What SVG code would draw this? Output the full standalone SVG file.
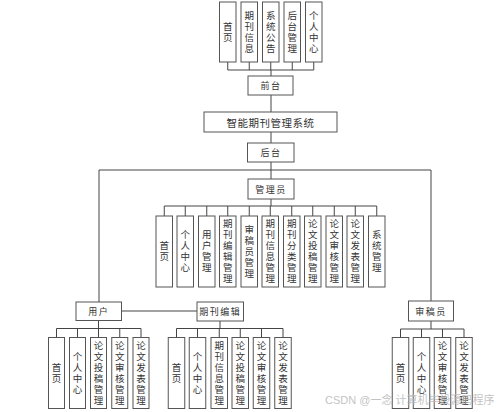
<svg xmlns="http://www.w3.org/2000/svg" width="499" height="412" viewBox="0 0 499 412">
<style>
.b{fill:#fff;stroke:#555;stroke-width:1}
.c line{stroke:#444;stroke-width:1}
text{font-family:"Noto Sans CJK SC","Noto Sans",sans-serif;fill:#333}
.v{font-size:9.5px;writing-mode:vertical-rl;text-orientation:upright;letter-spacing:1.5px;text-anchor:middle}
.h{font-size:9px;text-anchor:middle;dominant-baseline:central;letter-spacing:1.5px}
.t{font-size:10.5px;text-anchor:middle;dominant-baseline:central;letter-spacing:0.5px}
.w{font-size:11px;fill:#bbb;font-family:"Liberation Sans","Noto Sans CJK SC",sans-serif}
</style>
<rect width="499" height="412" fill="#fff"/>
<g id="connectors" class="c">
<line x1="227.75" y1="62" x2="227.75" y2="70"/><line x1="249.25" y1="62" x2="249.25" y2="70"/><line x1="270.75" y1="62" x2="270.75" y2="70"/><line x1="292.25" y1="62" x2="292.25" y2="70"/><line x1="313.75" y1="62" x2="313.75" y2="70"/>
<line x1="227.75" y1="70" x2="313.75" y2="70"/>
<line x1="271" y1="70" x2="271" y2="76"/>
<line x1="271" y1="95" x2="271" y2="112"/>
<line x1="271" y1="132" x2="271" y2="143"/>
<line x1="271" y1="162" x2="271" y2="170"/>
<line x1="99" y1="170" x2="431" y2="170"/>
<line x1="271" y1="170" x2="271" y2="179"/>
<line x1="99" y1="170" x2="99" y2="302"/>
<line x1="431" y1="170" x2="431" y2="301"/>
<line x1="121.5" y1="311" x2="197" y2="311"/>
<line x1="271" y1="199" x2="271" y2="206"/>
<line x1="164.25" y1="206" x2="376.75" y2="206"/>
<line x1="164.25" y1="206" x2="164.25" y2="216"/><line x1="185.25" y1="206" x2="185.25" y2="216"/><line x1="206.75" y1="206" x2="206.75" y2="216"/><line x1="227.75" y1="206" x2="227.75" y2="216"/><line x1="249.25" y1="206" x2="249.25" y2="216"/><line x1="270.25" y1="206" x2="270.25" y2="216"/><line x1="291.75" y1="206" x2="291.75" y2="216"/><line x1="312.75" y1="206" x2="312.75" y2="216"/><line x1="334.25" y1="206" x2="334.25" y2="216"/><line x1="355.25" y1="206" x2="355.25" y2="216"/><line x1="376.75" y1="206" x2="376.75" y2="216"/>
<line x1="98.5" y1="320.5" x2="98.5" y2="328.5"/>
<line x1="56.5" y1="328.5" x2="141" y2="328.5"/>
<line x1="56.5" y1="328.5" x2="56.5" y2="337.5"/><line x1="77.5" y1="328.5" x2="77.5" y2="337.5"/><line x1="98.5" y1="328.5" x2="98.5" y2="337.5"/><line x1="119.75" y1="328.5" x2="119.75" y2="337.5"/><line x1="141" y1="328.5" x2="141" y2="337.5"/>
<line x1="220" y1="321" x2="220" y2="328.5"/>
<line x1="176.5" y1="328.5" x2="283" y2="328.5"/>
<line x1="176.5" y1="328.5" x2="176.5" y2="337.5"/><line x1="197.5" y1="328.5" x2="197.5" y2="337.5"/><line x1="219.25" y1="328.5" x2="219.25" y2="337.5"/><line x1="240.25" y1="328.5" x2="240.25" y2="337.5"/><line x1="261.5" y1="328.5" x2="261.5" y2="337.5"/><line x1="283" y1="328.5" x2="283" y2="337.5"/>
<line x1="431" y1="321" x2="431" y2="329"/>
<line x1="400.5" y1="329" x2="464" y2="329"/>
<line x1="400.5" y1="329" x2="400.5" y2="337.5"/><line x1="421.5" y1="329" x2="421.5" y2="337.5"/><line x1="442.5" y1="329" x2="442.5" y2="337.5"/><line x1="464" y1="329" x2="464" y2="337.5"/>
</g>

<g id="top-home"><rect class="b" x="219.5" y="2" width="16.5" height="60"/><text class="v" x="227.75" y="32.75">首页</text></g>
<g id="top-info"><rect class="b" x="241" y="2" width="16.5" height="60"/><text class="v" x="249.25" y="32.75">期刊信息</text></g>
<g id="top-notice"><rect class="b" x="262.5" y="2" width="16.5" height="60"/><text class="v" x="270.75" y="32.75">系统公告</text></g>
<g id="top-backend"><rect class="b" x="284" y="2" width="16.5" height="60"/><text class="v" x="292.25" y="32.75">后台管理</text></g>
<g id="top-personal"><rect class="b" x="305.5" y="2" width="16.5" height="60"/><text class="v" x="313.75" y="32.75">个人中心</text></g>

<g id="frontend"><rect class="b" x="248" y="76" width="45" height="19"/><text class="h" x="271" y="85.5">前台</text></g>
<g id="system"><rect class="b" x="204" y="112" width="133" height="20"/><text class="t" x="270.5" y="122">智能期刊管理系统</text></g>
<g id="backend"><rect class="b" x="247.5" y="143" width="46.5" height="19"/><text class="h" x="271" y="152.5">后台</text></g>
<g id="admin"><rect class="b" x="248" y="179" width="46" height="20"/><text class="h" x="271" y="189">管理员</text></g>

<g id="a1"><rect class="b" x="156" y="216" width="16.5" height="71"/><text class="v" x="164.25" y="251.75">首页</text></g>
<g id="a2"><rect class="b" x="177" y="216" width="16.5" height="71"/><text class="v" x="185.25" y="251.75">个人中心</text></g>
<g id="a3"><rect class="b" x="198.5" y="216" width="16.5" height="71"/><text class="v" x="206.75" y="251.75">用户管理</text></g>
<g id="a4"><rect class="b" x="219.5" y="216" width="16.5" height="71"/><text class="v" x="227.75" y="251.75">期刊编辑管理</text></g>
<g id="a5"><rect class="b" x="241" y="216" width="16.5" height="71"/><text class="v" x="249.25" y="251.75">审稿员管理</text></g>
<g id="a6"><rect class="b" x="262" y="216" width="16.5" height="71"/><text class="v" x="270.25" y="251.75">期刊信息管理</text></g>
<g id="a7"><rect class="b" x="283.5" y="216" width="16.5" height="71"/><text class="v" x="291.75" y="251.75">期刊分类管理</text></g>
<g id="a8"><rect class="b" x="304.5" y="216" width="16.5" height="71"/><text class="v" x="312.75" y="251.75">论文投稿管理</text></g>
<g id="a9"><rect class="b" x="326" y="216" width="16.5" height="71"/><text class="v" x="334.25" y="251.75">论文审核管理</text></g>
<g id="a10"><rect class="b" x="347" y="216" width="16.5" height="71"/><text class="v" x="355.25" y="251.75">论文发表管理</text></g>
<g id="a11"><rect class="b" x="368.5" y="216" width="16.5" height="71"/><text class="v" x="376.75" y="251.75">系统管理</text></g>

<g id="user"><rect class="b" x="76" y="302" width="45.5" height="18.5"/><text class="h" x="98.75" y="311.25">用户</text></g>
<g id="editor"><rect class="b" x="197" y="302" width="46.5" height="19"/><text class="h" x="220.25" y="311.5">期刊编辑</text></g>
<g id="reviewer"><rect class="b" x="408.5" y="301" width="45" height="20"/><text class="h" x="431" y="311">审稿员</text></g>

<g id="u1"><rect class="b" x="48.5" y="337.5" width="16" height="71"/><text class="v" x="56.5" y="373.75">首页</text></g>
<g id="u2"><rect class="b" x="69.5" y="337.5" width="16" height="71"/><text class="v" x="77.5" y="373.75">个人中心</text></g>
<g id="u3"><rect class="b" x="90.5" y="337.5" width="16" height="71"/><text class="v" x="98.5" y="373.75">论文投稿管理</text></g>
<g id="u4"><rect class="b" x="111.75" y="337.5" width="16" height="71"/><text class="v" x="119.75" y="373.75">论文审核管理</text></g>
<g id="u5"><rect class="b" x="133" y="337.5" width="16" height="71"/><text class="v" x="141" y="373.75">论文发表管理</text></g>

<g id="e1"><rect class="b" x="168.25" y="337.5" width="16.5" height="71"/><text class="v" x="176.5" y="373.75">首页</text></g>
<g id="e2"><rect class="b" x="189.25" y="337.5" width="16.5" height="71"/><text class="v" x="197.5" y="373.75">个人中心</text></g>
<g id="e3"><rect class="b" x="211" y="337.5" width="16.5" height="71"/><text class="v" x="219.25" y="373.75">期刊信息管理</text></g>
<g id="e4"><rect class="b" x="232" y="337.5" width="16.5" height="71"/><text class="v" x="240.25" y="373.75">论文投稿管理</text></g>
<g id="e5"><rect class="b" x="253.25" y="337.5" width="16.5" height="71"/><text class="v" x="261.5" y="373.75">论文审核管理</text></g>
<g id="e6"><rect class="b" x="274.75" y="337.5" width="16.5" height="71"/><text class="v" x="283" y="373.75">论文发表管理</text></g>

<g id="r1"><rect class="b" x="392.25" y="337.5" width="16.5" height="71"/><text class="v" x="400.5" y="373.75">首页</text></g>
<g id="r2"><rect class="b" x="413.25" y="337.5" width="16.5" height="71"/><text class="v" x="421.5" y="373.75">个人中心</text></g>
<g id="r3"><rect class="b" x="434.25" y="337.5" width="16.5" height="71"/><text class="v" x="442.5" y="373.75">论文审核管理</text></g>
<g id="r4"><rect class="b" x="455.75" y="337.5" width="16.5" height="71"/><text class="v" x="464" y="373.75">论文发表管理</text></g>

<text class="w" x="325" y="404" fill-opacity="0.9">CSDN @一念 计算机毕设源码程序</text>
</svg>
